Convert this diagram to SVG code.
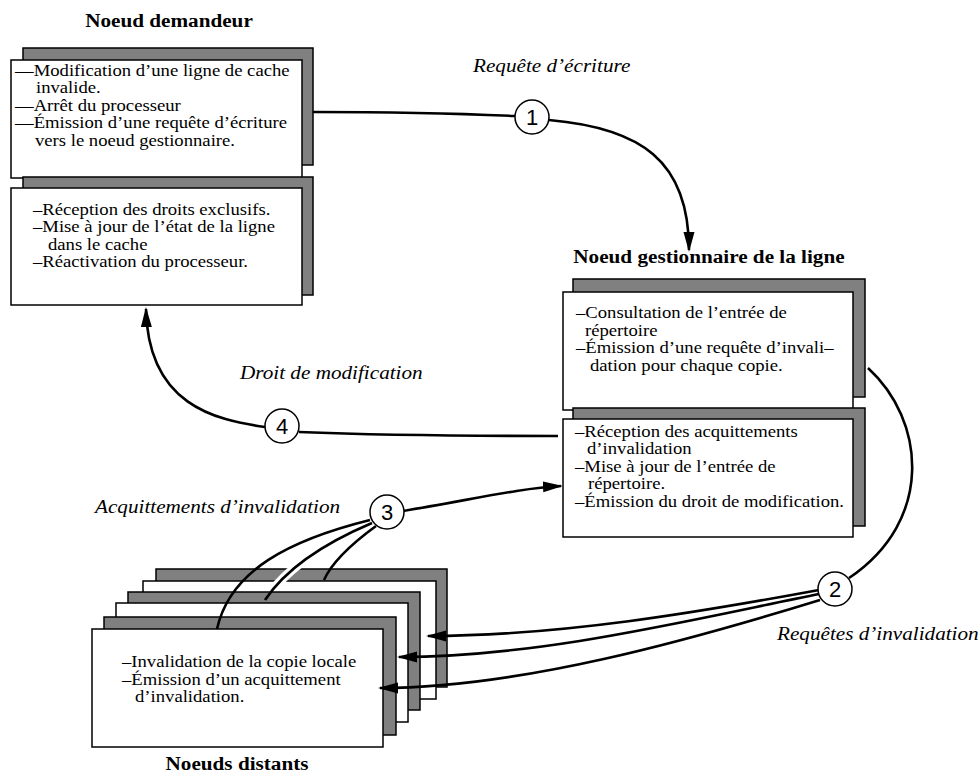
<svg xmlns="http://www.w3.org/2000/svg" width="980" height="776" viewBox="0 0 980 776">
  <defs>
    <marker id="arrow" markerUnits="userSpaceOnUse" markerWidth="22" markerHeight="12" refX="18" refY="5.5" orient="auto">
      <path d="M0,0 L20,5.5 L0,11 z" fill="#000"/>
    </marker>
    <clipPath id="notch">
      <rect x="250" y="566" width="100" height="16"/>
    </clipPath>
  </defs>
  <style>
    .shadow { fill: #808080; stroke: #000; stroke-width: 1.5; }
    .card { fill: #fff; stroke: #000; stroke-width: 1.5; }
    .body { font-family: "Liberation Serif", "Times New Roman", serif; font-size: 16px; fill: #000; }
    .title { font-family: "Liberation Serif", "Times New Roman", serif; font-size: 18.5px; font-weight: bold; fill: #000; text-anchor: middle; }
    .label { font-family: "Liberation Serif", "Times New Roman", serif; font-size: 18.5px; font-style: italic; fill: #000; }
    .wire { fill: none; stroke: #000; stroke-width: 2.6; }
    .halo { fill: none; stroke: #fff; stroke-width: 9; }
    .step { fill: #fff; stroke: #000; stroke-width: 1.5; }
    .num { font-family: "Liberation Sans", Arial, sans-serif; font-size: 22px; fill: #000; text-anchor: middle; }
  </style>

  <rect width="980" height="776" fill="#fff"/>

  <!-- requesting node; text groups are widened horizontally (x values divided by the scale) -->
  <g id="node-demandeur">
    <g transform="scale(1.145,1)">
      <text class="title" x="147.6" y="27">Noeud demandeur</text>
    </g>
    <rect class="shadow" x="23" y="48" width="290" height="117"/>
    <rect class="card" x="11" y="60" width="291" height="118"/>
    <rect class="shadow" x="23" y="177" width="290" height="118"/>
    <rect class="card" x="11" y="188" width="291" height="117"/>
    <g transform="scale(1.167,1)">
      <text class="body" x="12.85" y="76">—Modification d’une ligne de cache</text>
      <text class="body" x="30.85" y="93.5">invalide.</text>
      <text class="body" x="12.85" y="111">—Arrêt du processeur</text>
      <text class="body" x="12.85" y="128.5">—Émission d’une requête d’écriture</text>
      <text class="body" x="29.99" y="146">vers le noeud gestionnaire.</text>
      <text class="body" x="28.28" y="215">–Réception des droits exclusifs.</text>
      <text class="body" x="28.28" y="232.5">–Mise à jour de l’état de la ligne</text>
      <text class="body" x="41.13" y="250">dans le cache</text>
      <text class="body" x="28.28" y="267.5">–Réactivation du processeur.</text>
    </g>
  </g>

  <!-- home node of the line -->
  <g id="node-gestionnaire">
    <g transform="scale(1.145,1)">
      <text class="title" x="619.2" y="263">Noeud gestionnaire de la ligne</text>
    </g>
    <rect class="shadow" x="573" y="279" width="292" height="118"/>
    <rect class="card" x="563" y="292" width="290" height="118"/>
    <rect class="shadow" x="573" y="408" width="292" height="118"/>
    <rect class="card" x="563" y="419" width="290" height="118"/>
    <g transform="scale(1.167,1)">
      <text class="body" x="493.57" y="318">–Consultation de l’entrée de</text>
      <text class="body" x="501.29" y="336">répertoire</text>
      <text class="body" x="493.57" y="353.5">–Émission d’une requête d’invali–</text>
      <text class="body" x="505.57" y="371">dation pour chaque copie.</text>
      <text class="body" x="492.72" y="437">–Réception des acquittements</text>
      <text class="body" x="503.0" y="454">d’invalidation</text>
      <text class="body" x="492.72" y="472">–Mise à jour de l’entrée de</text>
      <text class="body" x="503.86" y="489">répertoire.</text>
      <text class="body" x="492.72" y="507">–Émission du droit de modification.</text>
    </g>
  </g>

  <!-- remote nodes (stacked copies) -->
  <g id="node-distants">
    <rect class="shadow" x="156" y="569" width="291" height="118"/>
    <rect class="card" x="143" y="581" width="293" height="118"/>
    <rect class="shadow" x="128" y="592" width="292" height="118"/>
    <rect class="card" x="116" y="603" width="292" height="119"/>
    <rect class="shadow" x="104" y="617" width="292" height="118"/>
    <rect class="card" x="92" y="629" width="291" height="118"/>
    <g transform="scale(1.167,1)">
      <text class="body" x="104.54" y="667">–Invalidation de la copie locale</text>
      <text class="body" x="104.54" y="685">–Émission d’un acquittement</text>
      <text class="body" x="115.68" y="702">d’invalidation.</text>
    </g>
    <g transform="scale(1.145,1)">
      <text class="title" x="207.0" y="770">Noeuds distants</text>
    </g>
  </g>

  <!-- message flows -->
  <g id="connectors">
    <!-- 1: write request -->
    <path class="wire" d="M313,112 C400,112 470,114 515,116"/>
    <path class="wire" d="M549,120 C640,128 689,160 689,250" marker-end="url(#arrow)"/>
    <!-- 2: invalidation requests -->
    <path class="wire" d="M868,368 C925,420 935,520 849,578"/>
    <path class="wire" d="M819,590 C700,612 560,636 428,636" marker-end="url(#arrow)"/>
    <path class="wire" d="M819,594 C690,620 540,657 399,657" marker-end="url(#arrow)"/>
    <path class="wire" d="M820,600 C690,640 520,688 380,688" marker-end="url(#arrow)"/>
    <!-- 3: invalidation acknowledgements -->
    <path class="wire" d="M370,520 C290,540 230,570 217,629"/>
    <path class="halo" clip-path="url(#notch)" d="M372,523 C320,545 285,570 265,600"/>
    <path class="wire" d="M372,523 C320,545 285,570 265,600"/>
    <path class="wire" d="M376,526 C350,545 332,562 324,580"/>
    <path class="wire" d="M403,511 C470,500 520,488 561,486" marker-end="url(#arrow)"/>
    <!-- 4: modification right -->
    <path class="wire" d="M558,436 C450,436 350,434 299,432"/>
    <path class="wire" d="M265,427 C215,420 148,405 146,309" marker-end="url(#arrow)"/>

    <circle class="step" cx="532" cy="117" r="17"/>
    <text class="num" x="532" y="125">1</text>
    <circle class="step" cx="835" cy="589" r="17"/>
    <text class="num" x="835" y="597">2</text>
    <circle class="step" cx="387" cy="512" r="17"/>
    <text class="num" x="387" y="520">3</text>
    <circle class="step" cx="282" cy="426" r="17"/>
    <text class="num" x="282" y="434">4</text>
  </g>

  <!-- flow labels -->
  <g id="labels" transform="scale(1.145,1)">
    <text class="label" x="413.1" y="72">Requête d’écriture</text>
    <text class="label" x="209.6" y="379">Droit de modification</text>
    <text class="label" x="82.97" y="513">Acquittements d’invalidation</text>
    <text class="label" x="678.6" y="640">Requêtes d’invalidation</text>
  </g>
</svg>
